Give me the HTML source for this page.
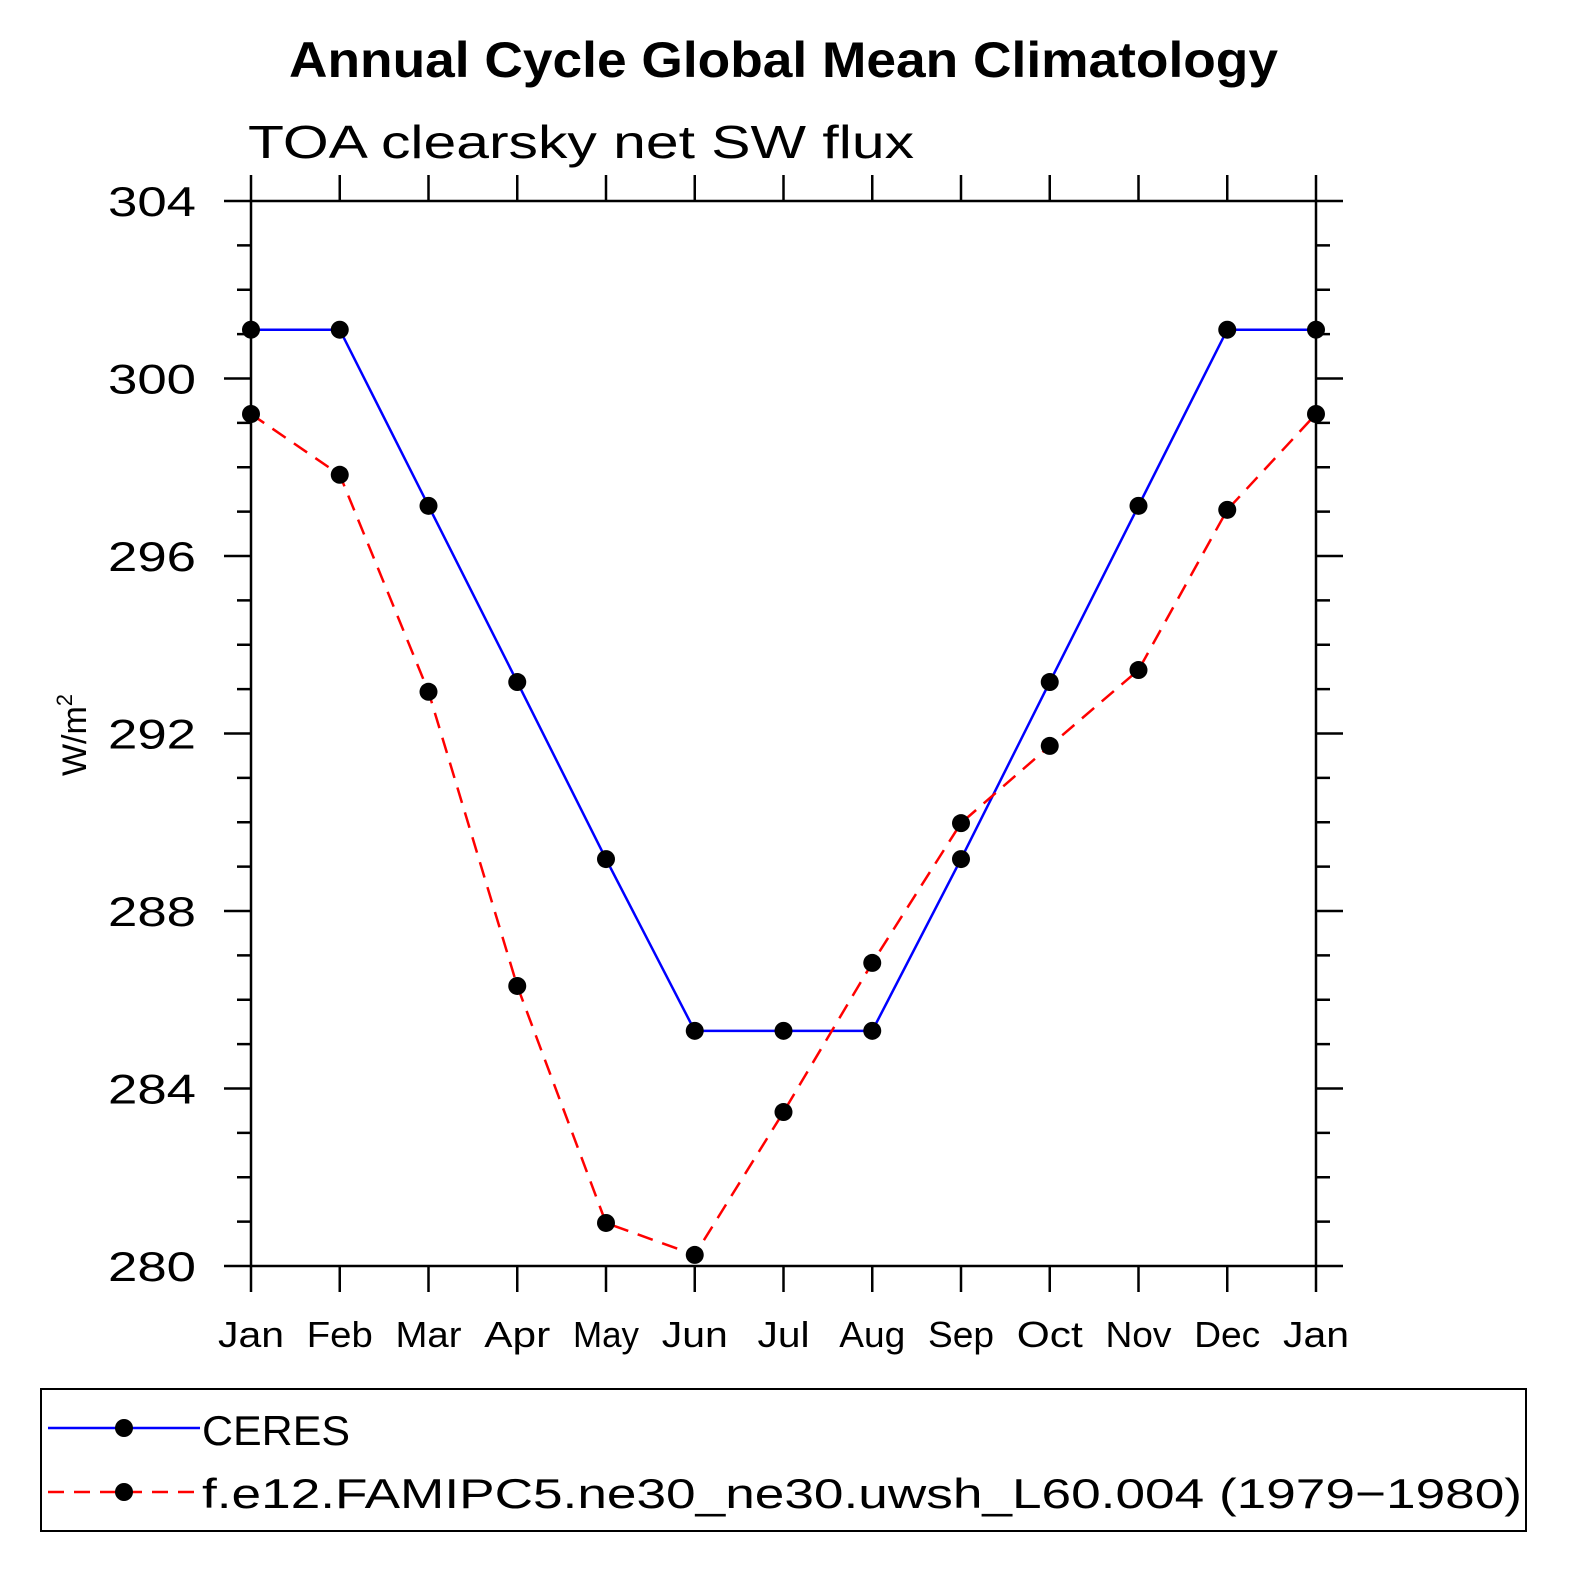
<!DOCTYPE html>
<html><head><meta charset="utf-8"><style>
body{margin:0;background:#fff;}
svg text{font-family:"Liberation Sans",sans-serif;}
</style></head><body>
<svg id="chart" width="1586" height="1586" xmlns="http://www.w3.org/2000/svg">
<text x="289" y="77" textLength="989" lengthAdjust="spacingAndGlyphs" font-size="50" font-weight="bold">Annual Cycle Global Mean Climatology</text>
<text x="248" y="158" textLength="666" lengthAdjust="spacingAndGlyphs" font-size="46">TOA clearsky net SW flux</text>
<text transform="translate(86,735) rotate(-90)" text-anchor="middle" font-size="34">W/m<tspan dy="-14" font-size="22">2</tspan></text>
<g id="axes"></g>
<g id="series"></g>
<rect x="41" y="1389" width="1485" height="142" fill="none" stroke="#000" stroke-width="2"/>
<g>
<line x1="48" y1="1428" x2="200" y2="1428" stroke="#00f" stroke-width="2.5"/>
<circle cx="124" cy="1428" r="9" fill="#000"/>
<text x="202" y="1445" textLength="148" lengthAdjust="spacingAndGlyphs" font-size="42">CERES</text></g>
<g>
<line x1="48" y1="1492" x2="200" y2="1492" stroke="#f00" stroke-width="2.5" stroke-dasharray="16,10"/>
<circle cx="124" cy="1492" r="9" fill="#000"/>
<text x="202" y="1508" textLength="1320" lengthAdjust="spacingAndGlyphs" font-size="42">f.e12.FAMIPC5.ne30_ne30.uwsh_L60.004 (1979−1980)</text></g>
</svg>
<script>
const months=["Jan","Feb","Mar","Apr","May","Jun","Jul","Aug","Sep","Oct","Nov","Dec","Jan"];
const ceres=[301.1,301.1,297.13,293.16,289.17,285.3,285.3,285.3,289.17,293.16,297.13,301.1,301.1];
const model=[299.2,297.83,292.94,286.31,280.97,280.25,283.47,286.83,289.98,291.72,293.43,297.04,299.2];
const yTicks=[280,284,288,292,296,300,304];
const X0=251,X1=1316,Y0=1266,Y1=201,YMIN=280,YMAX=304;
const xs=i=>X0+(X1-X0)*i/12;
const ys=v=>Y0-(Y0-Y1)*(v-YMIN)/(YMAX-YMIN);
const NS="http://www.w3.org/2000/svg";
function mk(t,a,p){const e=document.createElementNS(NS,t);for(const k in a)e.setAttribute(k,a[k]);p.appendChild(e);return e;}
const ax=document.getElementById('axes');
const fr=mk('rect',{x:X0,y:Y1,width:X1-X0,height:Y0-Y1,fill:'none',stroke:'#000','stroke-width':2.5},ax);


months.forEach((m,i)=>{
  const x=xs(i);
  mk('line',{x1:x,y1:Y0,x2:x,y2:Y0+26,stroke:'#000','stroke-width':2.5},ax);
  mk('line',{x1:x,y1:Y1,x2:x,y2:Y1-26,stroke:'#000','stroke-width':2.5},ax);
  const w=(m==="Jul")?52:66;
  const t=mk('text',{x:x-w/2,y:1347,textLength:w,lengthAdjust:'spacingAndGlyphs','font-size':36},ax);
  t.textContent=m;
  
  
});
for(let v=YMIN;v<=YMAX;v++){
  const y=ys(v),maj=(v%4===0);
  const L=maj?27:14;
  mk('line',{x1:X0-L,y1:y,x2:X0,y2:y,stroke:'#000','stroke-width':2.5},ax);
  mk('line',{x1:X1,y1:y,x2:X1+L,y2:y,stroke:'#000','stroke-width':2.5},ax);
}
yTicks.forEach(v=>{
  const t=mk('text',{x:108,y:ys(v)+15,textLength:88,lengthAdjust:'spacingAndGlyphs','font-size':42},ax);
  t.textContent=v;
  
  
});
const sg=document.getElementById('series');
function draw(vals,color,dash,name){
  const g=mk('g',{},sg);
  
  
  const pl=mk('polyline',{points:vals.map((v,i)=>xs(i)+','+ys(v)).join(' '),fill:'none',stroke:color,'stroke-width':2.5,'stroke-dasharray':dash},g);
  
  
  vals.forEach((v,i)=>{
    const c=mk('circle',{cx:xs(i),cy:ys(v),r:9,fill:'#000'},g);
    
    
  });
}
draw(ceres,'#00f','none','ceres-series');
draw(model,'#f00','16,10','model-series');
</script>
</body></html>
